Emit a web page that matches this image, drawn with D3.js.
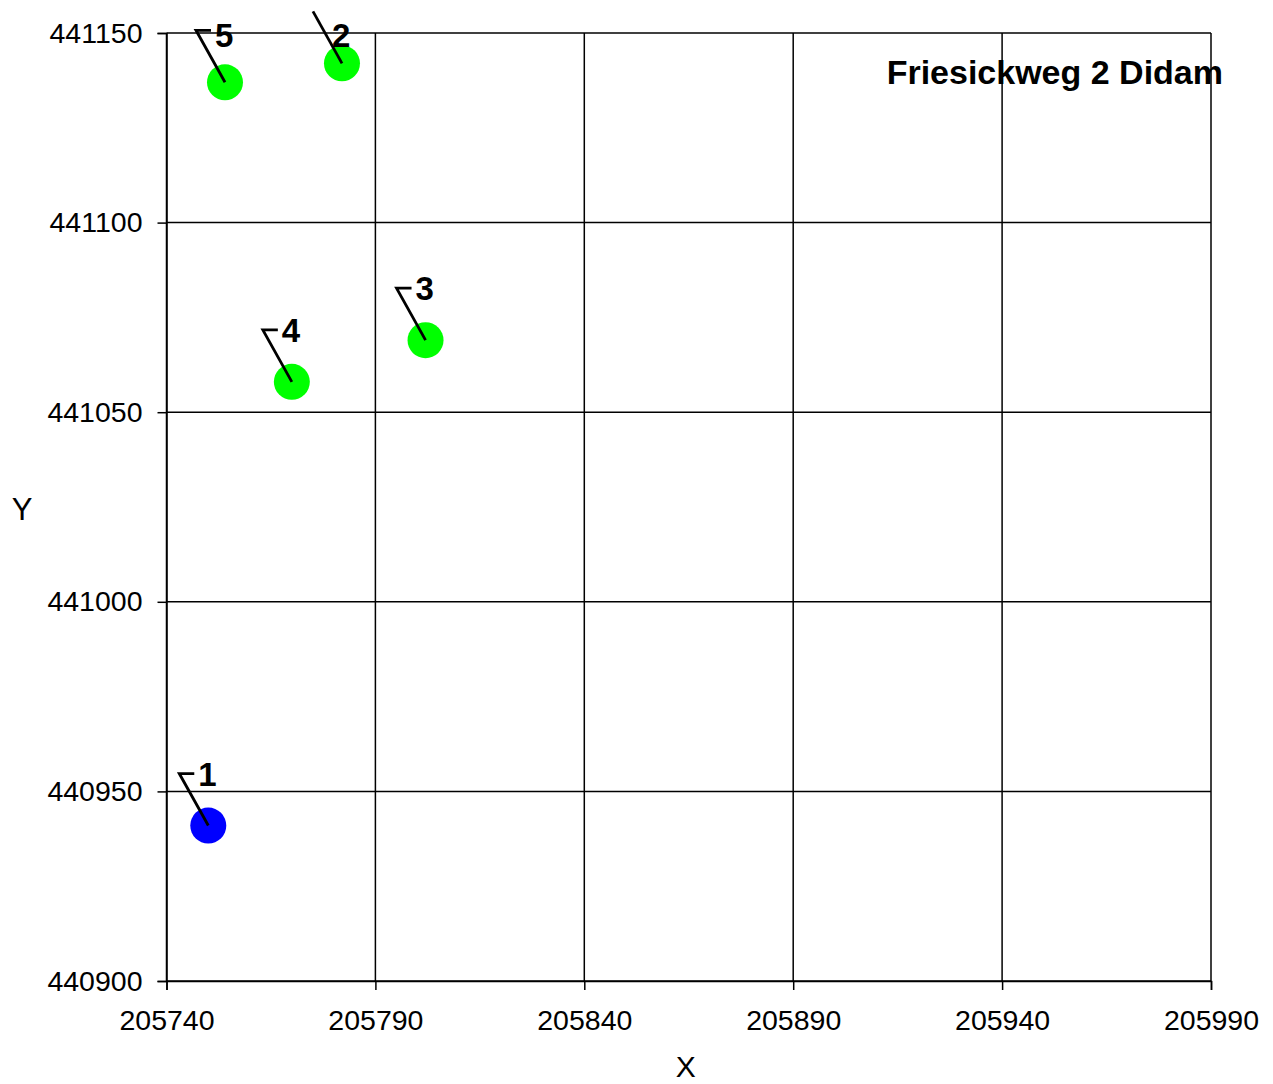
<!DOCTYPE html>
<html>
<head>
<meta charset="utf-8">
<script src="https://cdn.jsdelivr.net/npm/d3@7"></script>
<style>
  body { margin: 0; background: #fff; }
  text { font-family: "Liberation Sans", Arial, sans-serif; }
</style>
</head>
<body>
<svg id="chart"></svg>
<script>
(function () {
    "use strict";

    // boorpunten Friesickweg 2 Didam
    var labels = ["1", "2", "3", "4", "5"];
    var xs = [205750, 205782, 205802, 205770, 205754];
    var ys = [440941, 441142, 441069, 441058, 441137];
    var colors = ["#0000ff", "#00ff00", "#00ff00", "#00ff00", "#00ff00"];
    var xTicks = [205740, 205790, 205840, 205890, 205940, 205990];
    var yTicks = [440900, 440950, 441000, 441050, 441100, 441150];
    var title = "Friesickweg 2 Didam";

    var dim = { width: 1273, height: 1084 };
    var margin = { left: 166.5, right: 62, top: 33, bottom: 103 };
    var w = dim.width - margin.left - margin.right;
    var h = dim.height - margin.top - margin.bottom;

    var x = d3.scaleLinear().domain([205740, 205990]).range([0, w]);
    var y = d3.scaleLinear().domain([440900, 441150]).range([h, 0]);

    var svg = d3.select("#chart")
        .attr("width", dim.width)
        .attr("height", dim.height);
    var chart = svg.append("g")
        .attr("transform", "translate(" + margin.left + "," + margin.top + ")");

    // grid
    chart.append("g").selectAll("line.v").data(xTicks).enter().append("line")
        .attr("x1", function (d) { return x(d); }).attr("x2", function (d) { return x(d); })
        .attr("y1", 0).attr("y2", h)
        .attr("stroke", "#000").attr("stroke-width", 1.5);
    chart.append("g").selectAll("line.h").data(yTicks).enter().append("line")
        .attr("y1", function (d) { return y(d); }).attr("y2", function (d) { return y(d); })
        .attr("x1", 0).attr("x2", w)
        .attr("stroke", "#000").attr("stroke-width", 1.5);

    var xaxis = d3.axisBottom(x).tickValues(xTicks).tickFormat(d3.format("d")).tickSize(9).tickPadding(20);
    var yaxis = d3.axisLeft(y).tickValues(yTicks).tickFormat(d3.format("d")).tickSize(9).tickPadding(15);
    var gx = chart.append("g").attr("class", "x axis")
        .attr("transform", "translate(0," + h + ")")
        .call(xaxis);
    var gy = chart.append("g").attr("class", "y axis").call(yaxis);
    [gx, gy].forEach(function (g) {
        g.select(".domain").attr("stroke", "#000").attr("stroke-width", 1.5);
        g.selectAll(".tick line").attr("stroke", "#000").attr("stroke-width", 1.5);
        g.selectAll(".tick text")
            .attr("fill", "#000")
            .style("font-family", "'Liberation Sans', Arial, sans-serif")
            .style("font-size", "28.5px");
    });

    // axis titles
    svg.append("text").attr("x", margin.left + w / 2 - 3).attr("y", 1077)
        .attr("text-anchor", "middle").style("font-size", "30px").text("X");
    svg.append("text").attr("x", 22).attr("y", 520)
        .attr("text-anchor", "middle").style("font-size", "31px").text("Y");

    // title
    chart.append("text").attr("x", w + 12).attr("y", 51)
        .attr("text-anchor", "end")
        .style("font-size", "34px").style("font-weight", "bold")
        .text(title);

    // points
    var pts = d3.range(labels.length);
    chart.selectAll("circle.pt").data(pts).enter().append("circle")
        .attr("cx", function (i) { return x(xs[i]); })
        .attr("cy", function (i) { return y(ys[i]); })
        .attr("r", 18)
        .attr("fill", function (i) { return colors[i]; });

    // leader lines and labels
    var lab = chart.selectAll("g.lab").data(pts).enter().append("g").attr("class", "lab");
    lab.each(function (i) {
        var g = d3.select(this);
        var cx = x(xs[i]), cy = y(ys[i]);
        var tx = cx - 29, ty = cy - 52;
        var labCy = Math.max(ty, 2 - margin.top + 35 - 2);
        var pts2 = [[cx, cy], [tx, ty]];
        if (ty >= labCy - 12 && ty <= labCy + 12) pts2.push([tx + 15, ty]);
        g.append("path").attr("d", d3.line()(pts2))
            .attr("fill", "none").attr("stroke", "#000").attr("stroke-width", 2.8);
        g.append("text").attr("x", cx - 10).attr("y", labCy + 12)
            .style("font-size", "33px").style("font-weight", "bold")
            .text(labels[i]);
    });
})();
</script>
</body>
</html>
